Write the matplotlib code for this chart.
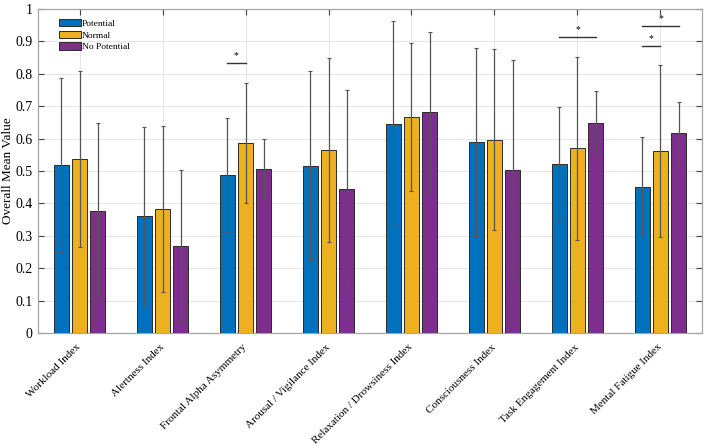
import numpy as np
import matplotlib
matplotlib.use("Agg")
import matplotlib.pyplot as plt
import matplotlib.transforms as mtransforms

categories = ["Workload Index", "Alertness Index", "Frontal Alpha Asymmetry",
              "Arousal / Vigilance Index", "Relaxation / Drowsiness Index",
              "Consciousness Index", "Task Engagement Index", "Mental Fatigue Index"]
series_names = ["Potential", "Normal", "No Potential"]
potential = [0.518, 0.360, 0.488, 0.516, 0.645, 0.590, 0.520, 0.450]
potential_err = [0.268, 0.276, 0.177, 0.292, 0.318, 0.290, 0.177, 0.155]
normal = [0.536, 0.383, 0.586, 0.565, 0.666, 0.597, 0.570, 0.561]
normal_err = [0.272, 0.256, 0.186, 0.285, 0.229, 0.279, 0.282, 0.265]
nopot = [0.376, 0.269, 0.506, 0.445, 0.681, 0.503, 0.648, 0.618]
nopot_err = [0.273, 0.235, 0.092, 0.304, 0.247, 0.338, 0.099, 0.096]
colors = ["#0072BD", "#EDB120", "#7E2F8E"]
yticks = [0, 0.1, 0.2, 0.3, 0.4, 0.5, 0.6, 0.7, 0.8, 0.9, 1]
ytick_labels = ["0", "0.1", "0.2", "0.3", "0.4", "0.5", "0.6", "0.7", "0.8", "0.9", "1"]
# significance: (group index, series a, series b, y level)
sig_pairs = [(2, 0, 1, 0.833), (6, 0, 2, 0.912), (7, 0, 2, 0.946), (7, 0, 1, 0.886)]

plt.rcParams['font.family'] = ['Liberation Serif', 'DejaVu Serif']

fig = plt.figure(figsize=(7.08, 4.48), dpi=100)
ax = fig.add_axes([0.0537, 0.2567, 0.9378, 0.7233])

x = np.arange(1, len(categories) + 1)
offsets = [-0.222, 0.0, 0.222]
width = 0.18
data = [potential, normal, nopot]
errs = [potential_err, normal_err, nopot_err]
for i in range(3):
    ax.bar(x + offsets[i], data[i], width, color=colors[i], edgecolor="#2b2b2b",
           linewidth=0.7, label=series_names[i], zorder=3)
    ax.errorbar(x + offsets[i], data[i], yerr=errs[i], fmt="none", ecolor="#555555",
                elinewidth=0.9, capsize=1.6, capthick=0.8, zorder=4)

for g, a, b, yl in sig_pairs:
    x0 = g + 1 + offsets[a]
    x1 = g + 1 + offsets[b]
    ax.plot([x0, x1], [yl, yl], color="#333333", lw=1.0, zorder=5)
    ax.text((x0 + x1) / 2, yl + 0.010, "*", ha="center", va="bottom", fontsize=7, zorder=5)

ax.set_xlim(0.5, 8.5)
ax.set_ylim(0, 1)
ax.set_yticks(yticks)
ax.set_yticklabels(ytick_labels, fontsize=10)
ax.set_xticks(x)
ax.set_xticklabels(categories, rotation=45, ha="right", va="center",
                   rotation_mode="anchor", fontsize=8)
offset = mtransforms.ScaledTranslation(4 / 100, 0, fig.dpi_scale_trans)
for lab in ax.get_xticklabels():
    lab.set_transform(lab.get_transform() + offset)
ax.set_ylabel("Overall Mean Value", fontsize=9.5)
ax.yaxis.set_label_coords(-0.0355, 0.5)
ax.grid(True, color="#e6e6e6", linewidth=0.8, zorder=0)
ax.set_axisbelow(True)
ax.tick_params(direction="in", top=True, right=True, length=4, color="#444444", width=0.8)
ax.tick_params(axis="x", pad=9)
ax.tick_params(axis="y", pad=4)
for s in ax.spines.values():
    s.set_color("#a6a6a6")
    s.set_linewidth(0.9)

leg = ax.legend(loc="upper left", bbox_to_anchor=((59 - 38) / 664, (333 - 19) / 324),
                frameon=False, fontsize=6.8, handlelength=2.3, handleheight=0.8,
                handletextpad=0.1, labelspacing=0.3, borderaxespad=0, borderpad=0)

fig.savefig("out.png", dpi=100)
